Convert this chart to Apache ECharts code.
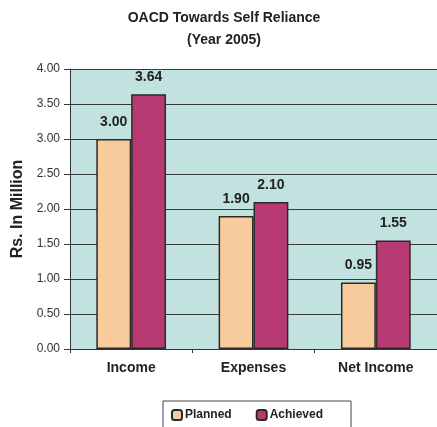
<!DOCTYPE html>
<html>
<head>
<meta charset="utf-8">
<script src="https://cdn.jsdelivr.net/npm/echarts@6/dist/echarts.min.js"></script>
<style>
  html, body { margin: 0; padding: 0; background: #fff; }
  #chart { width: 437px; height: 427px; }
</style>
</head>
<body>
<div id="chart"></div>
<script>
// chart data
const categories = ["Income", "Expenses", "Net Income"];
const planned = [3.00, 1.90, 0.95];
const achieved = [3.64, 2.10, 1.55];
const yTicks = [0, 0.5, 1, 1.5, 2, 2.5, 3, 3.5, 4];

const font = "Liberation Sans, Arial, sans-serif";
const chart = echarts.init(document.getElementById("chart"));

chart.setOption({
  animation: false,
  textStyle: { fontFamily: font },
  title: {
    text: "OACD Towards Self Reliance\n(Year 2005)",
    left: 219,
    textAlign: "center",
    top: 2,
    textStyle: { fontSize: 14, fontWeight: "bold", color: "#222", lineHeight: 22, fontFamily: font }
  },
  grid: { left: 70, top: 69, bottom: 78, right: -7 },
  legend: {
    data: ["Planned", "Achieved"],
    left: 163,
    top: 401,
    orient: "horizontal",
    backgroundColor: "#fff",
    borderColor: "#444",
    borderWidth: 1,
    borderRadius: 0,
    padding: [8, 28, 8, 8],
    itemWidth: 10,
    itemHeight: 10,
    itemGap: 24,
    textStyle: { fontSize: 12, fontWeight: "bold", color: "#222", fontFamily: font, padding: [0, 0, 0, -2] }
  },
  xAxis: {
    type: "category",
    data: categories,
    axisLine: { lineStyle: { color: "#333", width: 1 } },
    axisTick: { show: true, length: 4, lineStyle: { color: "#333" } },
    axisLabel: { fontSize: 14, fontWeight: "bold", color: "#222", margin: 12 }
  },
  yAxis: {
    type: "value",
    min: yTicks[0],
    max: yTicks[yTicks.length - 1],
    interval: 0.5,
    name: "Rs. In Million",
    nameLocation: "middle",
    nameGap: 44,
    nameTextStyle: { fontSize: 16, fontWeight: "bold", color: "#222", fontFamily: font },
    axisLine: { show: true, lineStyle: { color: "#333", width: 1 } },
    axisTick: { show: true, length: 6, lineStyle: { color: "#333" } },
    axisLabel: {
      fontSize: 12, color: "#333", margin: 10,
      formatter: v => v.toFixed(2)
    },
    splitLine: { show: true, lineStyle: { color: "#3a3a3a", width: 1 } },
    splitArea: { show: true, areaStyle: { color: ["#c1e2df", "#c1e2df"] } }
  },
  series: [
    {
      name: "Planned",
      type: "bar",
      data: planned,
      barCategoryGap: "43%",
      barGap: "0%",
      itemStyle: { color: "#f8cb9c", borderColor: "#2a2a2a", borderWidth: 1.5 },
      label: {
        show: true, position: "top", distance: 10,
        fontSize: 14, fontWeight: "bold", color: "#222",
        formatter: p => p.value.toFixed(2)
      }
    },
    {
      name: "Achieved",
      type: "bar",
      data: achieved,
      itemStyle: { color: "#b73a72", borderColor: "#2a2a2a", borderWidth: 1.5 },
      label: {
        show: true, position: "top", distance: 10,
        fontSize: 14, fontWeight: "bold", color: "#222",
        formatter: p => p.value.toFixed(2)
      }
    }
  ]
});
</script>
</body>
</html>
